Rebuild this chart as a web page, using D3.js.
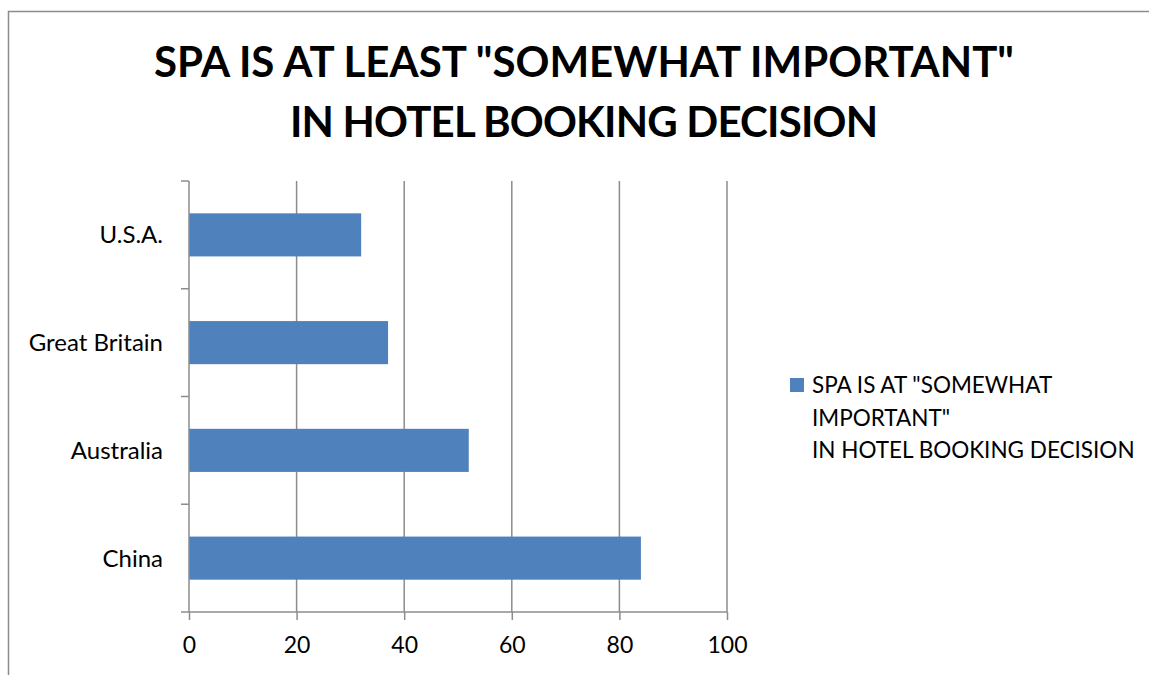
<!DOCTYPE html>
<html>
<head>
<meta charset="utf-8">
<script src="https://cdn.jsdelivr.net/npm/d3@7"></script>
<style>
  html, body { margin: 0; padding: 0; background: #fff; }
  svg { display: block; font-family: Lato, 'Open Sans', sans-serif; }
</style>
</head>
<body>
<div id="chart"></div>
<script>
const titleLines = ['SPA IS AT LEAST "SOMEWHAT IMPORTANT"', 'IN HOTEL BOOKING DECISION']
const legendLines = ['SPA IS AT "SOMEWHAT', 'IMPORTANT"', 'IN HOTEL BOOKING DECISION']
const countries = ['U.S.A.', 'Great Britain', 'Australia', 'China']
const values = [32, 37, 52, 84]
const xTicks = [0, 20, 40, 60, 80, 100]

const width = 1149
const height = 675
const plot = { left: 189, right: 727, top: 181, bottom: 612 }
const grey = '#8c8c8c'
const barColor = '#4f81bd'

const svg = d3.select('#chart').append('svg')
  .attr('width', width)
  .attr('height', height)

// chart frame (cropped at the bottom and right)
svg.append('path')
  .attr('d', `M8.5,${height} V11.5 H${width}`)
  .attr('fill', 'none')
  .attr('stroke', grey)
  .attr('stroke-width', 1.5)

svg.append('g')
  .attr('font-weight', 'bold')
  .attr('font-size', 42)
  .attr('text-anchor', 'middle')
  .attr('fill', '#000')
  .selectAll('text')
  .data(titleLines)
  .join('text')
  .attr('x', 584)
  .attr('y', (d, i) => 77 + i * 60)
  .attr('textLength', (d, i) => (i === 1 ? 588 : null))
  .text((d) => d)

const x = d3.scaleLinear().domain([0, 100]).range([plot.left, plot.right])
const y = d3.scaleBand()
  .domain(countries)
  .range([plot.top, plot.bottom])
  .paddingInner(0.6)
  .paddingOuter(0.3)

// vertical gridlines
svg.append('g')
  .selectAll('line')
  .data(xTicks.slice(1))
  .join('line')
  .attr('x1', (d) => x(d))
  .attr('x2', (d) => x(d))
  .attr('y1', plot.top)
  .attr('y2', plot.bottom)
  .attr('stroke', grey)
  .attr('stroke-width', 1.5)

svg.append('g')
  .selectAll('rect')
  .data(values)
  .join('rect')
  .attr('x', x(0))
  .attr('y', (d, i) => y(countries[i]))
  .attr('width', (d) => x(d) - x(0))
  .attr('height', y.bandwidth())
  .attr('fill', barColor)

// bottom axis
const xAxis = svg.append('g')
  .attr('transform', `translate(0,${plot.bottom})`)
  .call(d3.axisBottom(x).tickValues(xTicks).tickSize(8).tickPadding(17))
xAxis.select('.domain').attr('stroke', grey).attr('stroke-width', 1.5)
  .attr('d', `M${plot.left},0H${plot.right}`)
xAxis.selectAll('.tick line').attr('stroke', grey).attr('stroke-width', 1.5)
xAxis.selectAll('.tick text')
  .attr('font-size', 23)
  .attr('font-family', 'Lato, sans-serif')
  .attr('fill', '#000')

// left axis: ticks sit on band boundaries
const bounds = countries.map((c) => y(c) - y.step() * y.paddingInner() / 2)
bounds.push(plot.bottom)
const yAxis = svg.append('g')
svg.append('line')
  .attr('x1', plot.left).attr('x2', plot.left)
  .attr('y1', plot.top).attr('y2', plot.bottom)
  .attr('stroke', grey).attr('stroke-width', 1.5)
yAxis.selectAll('line')
  .data(bounds)
  .join('line')
  .attr('x1', plot.left - 8)
  .attr('x2', plot.left)
  .attr('y1', (d) => d)
  .attr('y2', (d) => d)
  .attr('stroke', grey)
  .attr('stroke-width', 1.5)

svg.append('g')
  .attr('font-size', 24)
  .attr('text-anchor', 'end')
  .attr('fill', '#000')
  .selectAll('text')
  .data(countries)
  .join('text')
  .attr('x', 163)
  .attr('y', (d) => y(d) + y.bandwidth() / 2)
  .attr('dy', '0.35em')
  .text((d) => d)

// legend
const legend = svg.append('g').attr('transform', 'translate(790,378)')
legend.append('rect')
  .attr('width', 14).attr('height', 14)
  .attr('fill', barColor)
legend.append('g')
  .attr('font-size', 22.5)
  .attr('fill', '#000')
  .selectAll('text')
  .data(legendLines)
  .join('text')
  .attr('x', 22)
  .attr('y', (d, i) => 15 + i * 32.5)
  .text((d) => d)
</script>
</body>
</html>
